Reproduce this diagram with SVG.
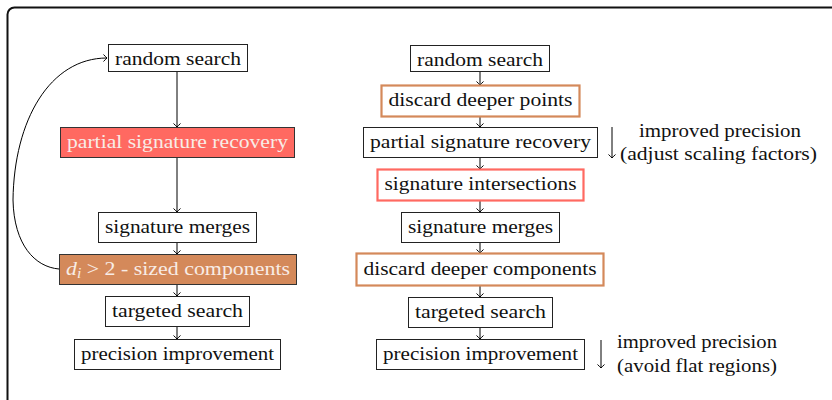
<svg xmlns="http://www.w3.org/2000/svg" width="832" height="400" viewBox="0 0 832 400">
<defs>
<marker id="arr" viewBox="-5 -5 10 10" refX="0" refY="0" markerWidth="10" markerHeight="10" markerUnits="userSpaceOnUse" orient="auto" overflow="visible">
<path d="M-3.5,-3.5 Q-1,-0.8 0,0 Q-1,0.8 -3.5,3.5" fill="none" stroke="#000" stroke-width="1"/>
</marker>
<style>
text{font-family:"Liberation Serif","Times New Roman",serif;font-size:19.5px;fill:#111;text-anchor:middle}
.box{fill:#fff;stroke:#222;stroke-width:1}
.red{fill:#ff6961;stroke:#333;stroke-width:1}
.org{fill:#d4895a;stroke:#333;stroke-width:1}
.rb{fill:#fff;stroke:#ff6961;stroke-width:2.2}
.ob{fill:#fff;stroke:#d4895a;stroke-width:2.2}
.lt{fill:#f8ece6}
.c{fill:none;stroke:#000;stroke-width:1;marker-end:url(#arr)}
.it{font-style:italic}
</style>
</defs>
<rect x="7.5" y="7.5" width="850" height="420" rx="7" fill="none" stroke="#111" stroke-width="2"/>
<g id="connectors">
<path class="c" d="M177,71 V127"/>
<path class="c" d="M177,157 V212"/>
<path class="c" d="M177,242 V254"/>
<path class="c" d="M177,284 V296"/>
<path class="c" d="M177,326 V339"/>
<path class="c" d="M59,269 C35,267 14,245 13,200 C14,120 50,58 107,58"/>
<path class="c" d="M480,71 V85"/>
<path class="c" d="M480,116 V127"/>
<path class="c" d="M480,157 V169"/>
<path class="c" d="M480,200 V212"/>
<path class="c" d="M480,242 V253"/>
<path class="c" d="M480,285 V297"/>
<path class="c" d="M480,327 V339"/>
<path class="c" d="M612,127 V158"/>
<path class="c" d="M601,340 V368"/>
</g>
<g id="l-random"><rect class="box" x="108.5" y="44.5" width="139" height="27"/><text x="178" y="64.5" textLength="126" lengthAdjust="spacingAndGlyphs">random search</text></g>
<g id="l-partial"><rect class="red" x="60.5" y="127.5" width="234" height="30"/><text class="lt" x="177.5" y="147.5" textLength="221" lengthAdjust="spacingAndGlyphs">partial signature recovery</text></g>
<g id="l-merges"><rect class="box" x="98.5" y="212.5" width="158" height="30"/><text x="177.5" y="232.5" textLength="145" lengthAdjust="spacingAndGlyphs">signature merges</text></g>
<g id="l-sized"><rect class="org" x="59.5" y="254.5" width="237" height="30"/><text class="lt" x="178" y="274.5" textLength="224" lengthAdjust="spacingAndGlyphs"><tspan class="it">d</tspan><tspan class="it" font-size="14" dy="3">i</tspan><tspan dy="-3"> &gt; 2 - sized components</tspan></text></g>
<g id="l-targeted"><rect class="box" x="105.5" y="296.5" width="144" height="30"/><text x="177.5" y="316.5" textLength="131" lengthAdjust="spacingAndGlyphs">targeted search</text></g>
<g id="l-precision"><rect class="box" x="74.5" y="339.5" width="206" height="30"/><text x="177.5" y="359.5" textLength="193" lengthAdjust="spacingAndGlyphs">precision improvement</text></g>
<g id="r-random"><rect class="box" x="410.5" y="45.5" width="139" height="26"/><text x="480" y="65.5" textLength="126" lengthAdjust="spacingAndGlyphs">random search</text></g>
<g id="r-points"><rect class="ob" x="381.5" y="85.5" width="198" height="31"/><text x="480.5" y="106" textLength="184" lengthAdjust="spacingAndGlyphs">discard deeper points</text></g>
<g id="r-partial"><rect class="box" x="363.5" y="127.5" width="234" height="30"/><text x="480.5" y="147.5" textLength="221" lengthAdjust="spacingAndGlyphs">partial signature recovery</text></g>
<g id="r-intersections"><rect class="rb" x="377.5" y="169.5" width="206" height="31"/><text x="480.5" y="190" textLength="192" lengthAdjust="spacingAndGlyphs">signature intersections</text></g>
<g id="r-merges"><rect class="box" x="401.5" y="212.5" width="158" height="30"/><text x="480.5" y="232.5" textLength="145" lengthAdjust="spacingAndGlyphs">signature merges</text></g>
<g id="r-components"><rect class="ob" x="356.5" y="253.5" width="247" height="32"/><text x="480" y="274.5" textLength="233" lengthAdjust="spacingAndGlyphs">discard deeper components</text></g>
<g id="r-targeted"><rect class="box" x="408.5" y="297.5" width="144" height="30"/><text x="480.5" y="317.5" textLength="131" lengthAdjust="spacingAndGlyphs">targeted search</text></g>
<g id="r-precision"><rect class="box" x="376.5" y="339.5" width="208" height="30"/><text x="480.5" y="359.5" textLength="195" lengthAdjust="spacingAndGlyphs">precision improvement</text></g>
<g id="note-top"><text x="720" y="136.5" textLength="162" lengthAdjust="spacingAndGlyphs">improved precision</text><text x="718.5" y="159.5" textLength="197" lengthAdjust="spacingAndGlyphs">(adjust scaling factors)</text></g>
<g id="note-bottom"><text x="697" y="347.5" textLength="160" lengthAdjust="spacingAndGlyphs">improved precision</text><text x="697" y="371.5" textLength="160" lengthAdjust="spacingAndGlyphs">(avoid flat regions)</text></g>
</svg>
